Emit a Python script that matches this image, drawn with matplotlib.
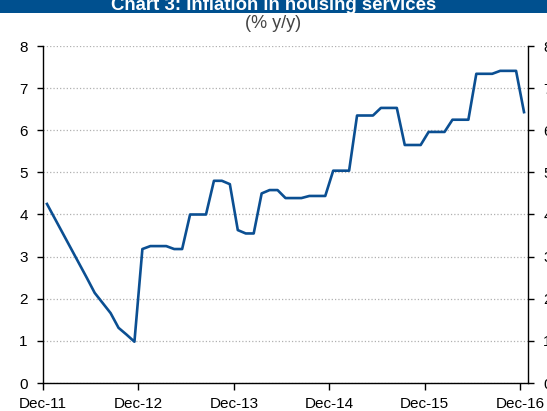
import matplotlib.pyplot as plt
from matplotlib.patches import Rectangle

# monthly, Dec-11 .. Dec-16
values = [4.25, 3.90, 3.55, 3.20, 2.85, 2.50, 2.14, 1.90, 1.66, 1.31, 1.15, 0.98,
          3.18, 3.25, 3.25, 3.25, 3.18, 3.18, 4.00, 4.00, 4.00, 4.80, 4.80, 4.72,
          3.63, 3.55, 3.55, 4.50, 4.58, 4.58, 4.39, 4.39, 4.39, 4.44, 4.44, 4.44,
          5.04, 5.04, 5.04, 6.35, 6.35, 6.35, 6.53, 6.53, 6.53, 5.65, 5.65, 5.65,
          5.96, 5.96, 5.96, 6.25, 6.25, 6.25, 7.34, 7.34, 7.34, 7.41, 7.41, 7.41,
          6.43]
tick_labels = ['Dec-11', 'Dec-12', 'Dec-13', 'Dec-14', 'Dec-15', 'Dec-16']

plt.rcParams['font.family'] = ['Liberation Sans', 'DejaVu Sans']

fig = plt.figure(figsize=(5.47, 4.11), dpi=100)
ax = fig.add_axes([43/547, 28/411, 485/547, 337/411])

# title band (cut off at top)
fig.patches.append(Rectangle((0, 1 - 13.5/411), 1, 13.5/411, transform=fig.transFigure,
                             facecolor='#00508f', edgecolor='none', zorder=0))
fig.text(0.5, 1 - 10.5/411, 'Chart 3: Inflation in housing services', ha='center',
         va='baseline', color='white', fontsize=13.4, fontweight='bold')
fig.text(0.5, 1 - 14.5/411, '(% y/y)', ha='center', va='top', color='#444444',
         fontsize=13)

x = list(range(len(values)))
ax.plot(x, values, color='#0b4f92', linewidth=1.9, zorder=3)

ax.set_xlim(-0.5, len(values) - 0.5)
ax.set_ylim(0, 8)
ax.set_yticks(range(0, 9))
ax.set_xticks([-0.5 + 12 * k for k in range(len(tick_labels))])
ax.set_xticklabels(tick_labels)
ax.grid(axis='y', color='#b0b0b0', linestyle=':', linewidth=0.9)
ax.spines['top'].set_visible(False)
for s in ['left', 'right', 'bottom']:
    ax.spines[s].set_linewidth(1.0)
ax.tick_params(axis='y', right=True, labelright=True, labelsize=11, length=4, width=1, pad=7)
ax.tick_params(axis='x', labelsize=11, length=5, width=1, pad=5)

fig.savefig('out.png', dpi=100)
